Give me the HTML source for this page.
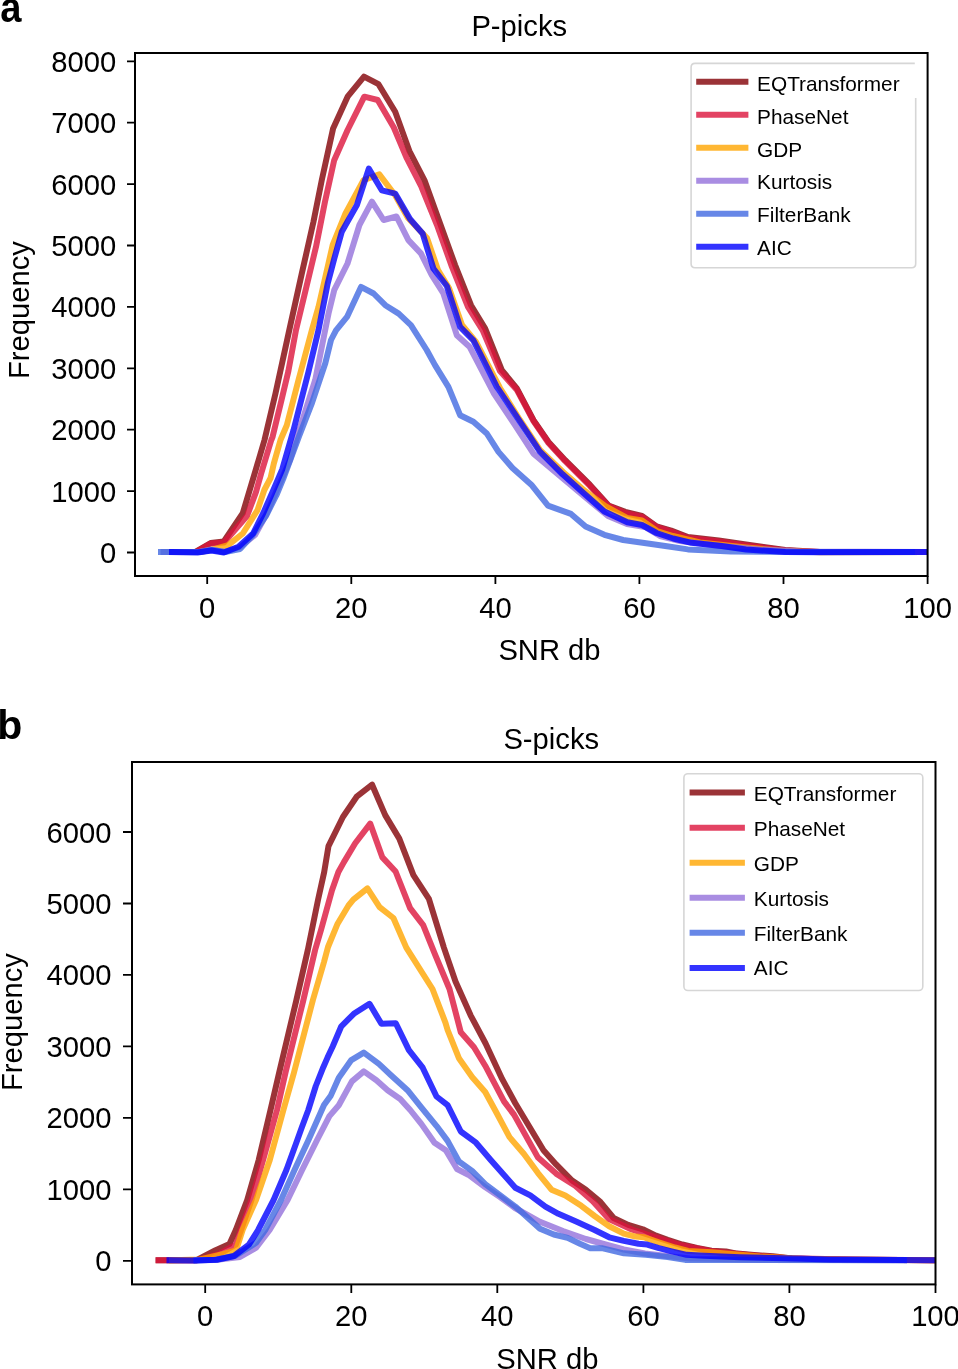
<!DOCTYPE html>
<html><head><meta charset="utf-8"><title>SNR picks</title>
<style>
html,body{margin:0;padding:0;background:#fff;overflow:hidden;}
svg{display:block;will-change:transform;}
text{font-family:"Liberation Sans",sans-serif;fill:#000;}
</style></head><body>
<svg width="958" height="1369" viewBox="0 0 958 1369">
<rect width="958" height="1369" fill="#fff"/>
<text transform="translate(0.3,22.4) scale(0.93,1.03)" font-size="41" font-weight="bold">a</text>
<text x="-2.7" y="739.3" font-size="41" font-weight="bold">b</text>
<clipPath id="clipa"><rect x="135" y="53" width="792.6" height="523"/></clipPath>
<g clip-path="url(#clipa)" fill="none" stroke-width="6.0" stroke-linecap="square" stroke-linejoin="round" stroke-opacity="0.8">
<polyline stroke="rgb(130,0,5)" points="172,552 195,552 210.7,543 223.8,541.5 242.8,513.1 255.5,470.7 264.5,440 275.5,393.4 289.3,330 301.8,273.5 313.5,221.7 321.8,180 333.1,128.5 347.6,96.7 364,76.7 378.5,84.2 395.2,111.8 409.4,151 424.5,180.3 440.1,223.4 455.1,265.1 471,305.2 485.2,328.6 501.8,370.1 516.8,388.4 533.5,420.2 548.5,441.9 565.2,460.2 589.8,484.7 608.6,505.6 625.3,511.9 642,516 656.6,526.5 671.2,530.6 687.9,537 718.7,540.5 746,544.5 785.3,550 820,552 940,552"/>
<polyline stroke="#DC143C" points="175,552 196,552 210.5,543.5 224,542.5 247,516 256,492 261.1,473.6 271.3,440 272.6,436.8 281.5,400 288.4,371 296,330 304.8,293.5 316,246.8 325,201.7 334.2,160.2 347.6,130 364.3,96.7 377.7,100 393.8,127.5 406.9,158.5 421.5,187 437,225 452,267 468,307 483,331 500,371 517,390 533.5,421 548.5,443 565,461 590,486 608.6,506 625,513 642,517 657,527 671,531.5 688,538 719,541.5 746,545.5 785,550.5 820,552 940,552"/>
<polyline stroke="#FFA500" points="175,552 200,552 215,549 228.2,545.2 242.8,533.5 257.5,510.1 264.3,490 270.6,478 273.8,463.6 280.5,440 286.8,425.2 298.5,380 311.9,330 318.5,306.9 332.7,245 345.5,213.4 363.5,180.2 379.3,174.4 395,195 408,218 427,238 438,270 449,288 462,325 476,342 500,388 520,420 540,450 563,472 585,491 605,506 627,518 642,520.5 657,531 673,536 700,542.5 746,547.5 785,551 820,552.3 940,552"/>
<polyline stroke="#9370DB" points="163.6,552 199,552 211,549.5 224,552 240,547 255,535 266,515 277,490 290,460 303.5,416.8 315.2,380 325.2,330 328.5,313.6 334.2,290.2 347.5,263.5 359.4,225 371.9,201.7 383.6,220 396.5,216.5 408.4,240.1 420.9,253.4 431.8,275.1 443.4,293.5 456.8,335.2 469.5,346.7 494,393.5 515,425 533.5,453.6 560,476 585,497 608,516 627,524 645,527 660,536 680,541 720,546 760,549.5 800,551.5 940,552"/>
<polyline stroke="#4169E1" points="161,552 200,552 212,550 225,552 240,549 252,536 266,515.8 276.5,495 283.2,478.9 298.9,436.8 312.1,402.6 325.3,363.2 331,340 336,330.3 347,316.9 361,286.9 373.6,293.5 385.3,305.2 398.7,313.6 410.9,325.2 426.7,350 435,365.1 448.4,386.8 460.1,415.2 473.4,421.8 486.8,433.5 498.5,451.9 512.5,468 531.3,484.7 548,505.6 571,513.9 585.6,526.5 604.4,534.8 623.2,540 646.1,543.2 667,546.3 687.9,549.4 730.8,551.5 800,552 912,552"/>
<polyline stroke="#0000FF" points="172,552 197.5,552.5 211.4,550.5 223.8,552.5 238.5,546.7 253.1,533.5 263.3,513.1 273.5,489.7 282.3,469.2 293.5,430.2 308.5,371.7 318.5,330 327.7,283.5 334.3,258.5 341.8,231.8 356.9,205 368.8,168.6 381.8,190.3 395.2,193.6 410,219 422.6,233.4 433.4,268.5 446.8,286 460.1,326.9 473.4,340.3 496.8,386.8 518.8,420 539.7,451.3 562.6,474.3 583.5,493.1 604.4,511.5 627.3,522.3 642,525 656.6,533 673.3,538.5 691.5,542.8 721.7,546 746,549.5 785.3,552 820,552.3 940,552"/>
</g>
<rect x="135" y="53" width="792.6" height="523" fill="none" stroke="#000" stroke-width="2"/>
<path d="M127 552.5H135M127 491.1H135M127 429.7H135M127 368.3H135M127 306.9H135M127 245.5H135M127 184.1H135M127 122.7H135M127 61.3H135M207.2 576V584M351.3 576V584M495.4 576V584M639.4 576V584M783.5 576V584M927.6 576V584" stroke="#000" stroke-width="1.8" fill="none"/>
<g font-size="29.2">
<text x="116.3" y="563" text-anchor="end">0</text>
<text x="116.3" y="501.6" text-anchor="end">1000</text>
<text x="116.3" y="440.2" text-anchor="end">2000</text>
<text x="116.3" y="378.8" text-anchor="end">3000</text>
<text x="116.3" y="317.4" text-anchor="end">4000</text>
<text x="116.3" y="256" text-anchor="end">5000</text>
<text x="116.3" y="194.6" text-anchor="end">6000</text>
<text x="116.3" y="133.2" text-anchor="end">7000</text>
<text x="116.3" y="71.8" text-anchor="end">8000</text>
<text x="207.2" y="617.7" text-anchor="middle">0</text>
<text x="351.3" y="617.7" text-anchor="middle">20</text>
<text x="495.4" y="617.7" text-anchor="middle">40</text>
<text x="639.4" y="617.7" text-anchor="middle">60</text>
<text x="783.5" y="617.7" text-anchor="middle">80</text>
<text x="927.6" y="617.7" text-anchor="middle">100</text>
<text x="471.4" y="36">P-picks</text>
<text x="498.4" y="660.1">SNR db</text>
<text transform="translate(28.6,379) rotate(-90)">Frequency</text>
</g>
<path d="M914.8 63.4H695Q691.1 63.4 691.1 67.3V263.8Q691.1 267.7 695 267.7H911.8Q915.7 267.7 915.7 263.8V98" fill="#fff" fill-opacity="0.8" stroke="#d6d6d6" stroke-width="1.6"/>
<g font-size="20.8">
<line x1="696.2" y1="81.8" x2="748.4" y2="81.8" stroke="rgb(130,0,5)" stroke-opacity="0.8" stroke-width="6.0"/>
<text x="757.1" y="91.2">EQTransformer</text>
<line x1="696.2" y1="114.8" x2="748.4" y2="114.8" stroke="#DC143C" stroke-opacity="0.8" stroke-width="6.0"/>
<text x="757.1" y="123.9">PhaseNet</text>
<line x1="696.2" y1="147.8" x2="748.4" y2="147.8" stroke="#FFA500" stroke-opacity="0.8" stroke-width="6.0"/>
<text x="757.1" y="156.6">GDP</text>
<line x1="696.2" y1="180.8" x2="748.4" y2="180.8" stroke="#9370DB" stroke-opacity="0.8" stroke-width="6.0"/>
<text x="757.1" y="189.3">Kurtosis</text>
<line x1="696.2" y1="213.8" x2="748.4" y2="213.8" stroke="#4169E1" stroke-opacity="0.8" stroke-width="6.0"/>
<text x="757.1" y="222">FilterBank</text>
<line x1="696.2" y1="246.8" x2="748.4" y2="246.8" stroke="#0000FF" stroke-opacity="0.8" stroke-width="6.0"/>
<text x="757.1" y="254.7">AIC</text>
</g>
<clipPath id="clipb"><rect x="132" y="762" width="803.5" height="522.4"/></clipPath>
<g clip-path="url(#clipb)" fill="none" stroke-width="6.0" stroke-linecap="square" stroke-linejoin="round" stroke-opacity="0.8">
<polyline stroke="rgb(130,0,5)" points="158.6,1260.3 196,1260.3 215.1,1250.5 229.5,1244 235.8,1230 247.2,1200 258.7,1160 270.5,1110 279.2,1072.5 296.4,1000 307.8,950 318,900 324.2,872 328.5,846.1 342.9,817 357,796.3 372.1,784.7 385.2,815.1 399.3,838.6 413.4,875.2 428.9,898.8 443.9,947.6 455.5,981.5 470.6,1015.3 485.6,1043.5 502.1,1078.9 515.3,1103.3 543.5,1150.3 556.1,1164.4 572.1,1180.5 585.9,1189.7 599.7,1201.2 613.6,1218 628.2,1224.9 642.8,1229.3 656,1235.6 667.7,1239.8 682.3,1244.5 696.9,1248 711.5,1250.8 726,1251.5 737,1253.6 754,1255 773,1256.3 792,1258.4 830,1259.5 945,1260.3"/>
<polyline stroke="#DC143C" points="158.6,1260.3 197,1260.3 218.9,1254.1 235.8,1244.7 241,1230 251.5,1200 263.1,1160 277,1110 285.5,1072.5 303.4,1000 315.1,950 321,930 332,890.3 338.4,872 343.9,862.1 355.2,843.3 370.2,823.6 382.4,857.4 395.6,871.5 410.1,908.2 423.2,925.1 435.3,955.2 449.5,989 460.8,1032.2 474,1047.2 485.2,1065.7 504,1101.4 514,1114.6 538,1157.6 556.1,1173.6 574.4,1185.1 592.8,1201.2 608.9,1219 631.8,1229.5 655,1237 682,1245.5 710,1251 748,1255 788.5,1258.3 850,1259.5 945,1260.3"/>
<polyline stroke="#FFA500" points="172,1260.3 200,1259.5 222.6,1254.1 236,1250.5 242.6,1230 256,1200 269.8,1160 283.4,1110 294,1072.5 312.9,1000 324,962 328,947 337.6,923.7 348.5,905.5 353.3,899.7 367.4,888.4 379.6,907.2 393.4,918 406.3,947.6 432.5,989 445.5,1022.8 447.6,1030 458.9,1058.2 472.1,1077 485.2,1092 496.5,1112.7 509.5,1137.1 524,1154 537.8,1172.8 551.5,1189.7 565.3,1195.4 581.3,1205.8 594.6,1216 609.2,1226.3 623.8,1233.6 635.5,1236.6 644.3,1237.3 658.9,1242.4 675,1247.5 688.1,1251 711.5,1252.3 760,1256.5 800,1258.8 850,1259.8 945,1260.3"/>
<polyline stroke="#9370DB" points="196.5,1260.3 215,1260 240,1257 256.1,1247.7 269.6,1230 287.6,1200 302.1,1170 317.1,1140 329.4,1116.1 338.8,1105.2 351.9,1081.4 363.8,1071.4 376.4,1080.2 387.6,1090.2 400.2,1099 410.2,1110 421.3,1123.9 434.5,1142.7 445.8,1150.3 457,1169 468.3,1174.7 485,1187 500,1197 515,1208 540,1221.8 563,1231 585.9,1239 601.9,1243.5 623.8,1249.5 645,1253.5 667,1256 690,1258.5 720,1259 760,1259.8 904,1260.3"/>
<polyline stroke="#4169E1" points="196.5,1260.3 215,1259.8 235,1256 256.1,1242.8 265.2,1230 281,1200 294.5,1170 308.5,1140 324,1105 330.9,1095.4 338.8,1077.7 351.3,1060.1 363.8,1052.6 378.9,1063.9 391,1075.2 407.5,1090.2 421.5,1107.7 436.4,1125.8 447.6,1140.9 458.9,1161.5 472.1,1170.9 485.2,1184.1 500.3,1195.4 515.3,1206.6 540,1228.7 553.8,1234.5 567.6,1237.9 580,1243.8 590.2,1248.2 601.9,1248.2 623.8,1253.3 645.8,1254.8 667.7,1257 685.2,1259.9 760,1260 904,1260.3"/>
<polyline stroke="#0000FF" points="169.5,1260.3 194.4,1260.5 217,1259.7 233.9,1256 248.9,1244.7 258.1,1230 273.6,1200 286.4,1170 297.3,1140 301.5,1128.2 308.3,1110 315.8,1086 323.3,1067.2 327.5,1057.6 332.7,1046.5 341.3,1026.3 353.8,1013.8 369.5,1003.8 381.4,1023.8 395.8,1023.2 408.9,1050.1 422.7,1067.7 436.5,1096.5 447.6,1105.2 460.8,1131.5 476,1142.7 490.5,1159.7 515.3,1187.8 530.3,1195.4 545.4,1206.6 558.4,1213.8 576.7,1221.8 594.6,1230 609.2,1237.3 623.8,1240.9 638.5,1243.8 647.2,1244.6 658.9,1248.2 670.6,1251.1 686.7,1254.8 704.2,1255.8 740,1257.2 795,1258.6 830,1259.5 945,1260.3"/>
</g>
<rect x="132" y="762" width="803.5" height="522.4" fill="none" stroke="#000" stroke-width="2"/>
<path d="M123 1260.8H132M123 1189.3H132M123 1117.9H132M123 1046.4H132M123 974.9H132M123 903.5H132M123 832H132M205.2 1284.4V1292.9M351.3 1284.4V1292.9M497.3 1284.4V1292.9M643.4 1284.4V1292.9M789.4 1284.4V1292.9M935.5 1284.4V1292.9" stroke="#000" stroke-width="1.8" fill="none"/>
<g font-size="29.2">
<text x="111.4" y="1271.3" text-anchor="end">0</text>
<text x="111.4" y="1199.8" text-anchor="end">1000</text>
<text x="111.4" y="1128.4" text-anchor="end">2000</text>
<text x="111.4" y="1056.9" text-anchor="end">3000</text>
<text x="111.4" y="985.4" text-anchor="end">4000</text>
<text x="111.4" y="914" text-anchor="end">5000</text>
<text x="111.4" y="842.5" text-anchor="end">6000</text>
<text x="205.2" y="1325.9" text-anchor="middle">0</text>
<text x="351.3" y="1325.9" text-anchor="middle">20</text>
<text x="497.3" y="1325.9" text-anchor="middle">40</text>
<text x="643.4" y="1325.9" text-anchor="middle">60</text>
<text x="789.4" y="1325.9" text-anchor="middle">80</text>
<text x="935.5" y="1325.9" text-anchor="middle">100</text>
<text x="503.4" y="749.2">S-picks</text>
<text x="496.3" y="1368.8">SNR db</text>
<text transform="translate(22,1091) rotate(-90)">Frequency</text>
</g>
<rect x="683.9" y="773.7" width="238.9" height="216.8" rx="4" fill="#fff" fill-opacity="0.8" stroke="#d6d6d6" stroke-width="1.6"/>
<g font-size="20.8">
<line x1="689.6" y1="792.6" x2="744.9" y2="792.6" stroke="rgb(130,0,5)" stroke-opacity="0.8" stroke-width="6.0"/>
<text x="753.8" y="801.4">EQTransformer</text>
<line x1="689.6" y1="827.7" x2="744.9" y2="827.7" stroke="#DC143C" stroke-opacity="0.8" stroke-width="6.0"/>
<text x="753.8" y="836.2">PhaseNet</text>
<line x1="689.6" y1="862.7" x2="744.9" y2="862.7" stroke="#FFA500" stroke-opacity="0.8" stroke-width="6.0"/>
<text x="753.8" y="871">GDP</text>
<line x1="689.6" y1="897.8" x2="744.9" y2="897.8" stroke="#9370DB" stroke-opacity="0.8" stroke-width="6.0"/>
<text x="753.8" y="905.7">Kurtosis</text>
<line x1="689.6" y1="932.8" x2="744.9" y2="932.8" stroke="#4169E1" stroke-opacity="0.8" stroke-width="6.0"/>
<text x="753.8" y="940.5">FilterBank</text>
<line x1="689.6" y1="967.9" x2="744.9" y2="967.9" stroke="#0000FF" stroke-opacity="0.8" stroke-width="6.0"/>
<text x="753.8" y="975.3">AIC</text>
</g>
</svg>
</body></html>
